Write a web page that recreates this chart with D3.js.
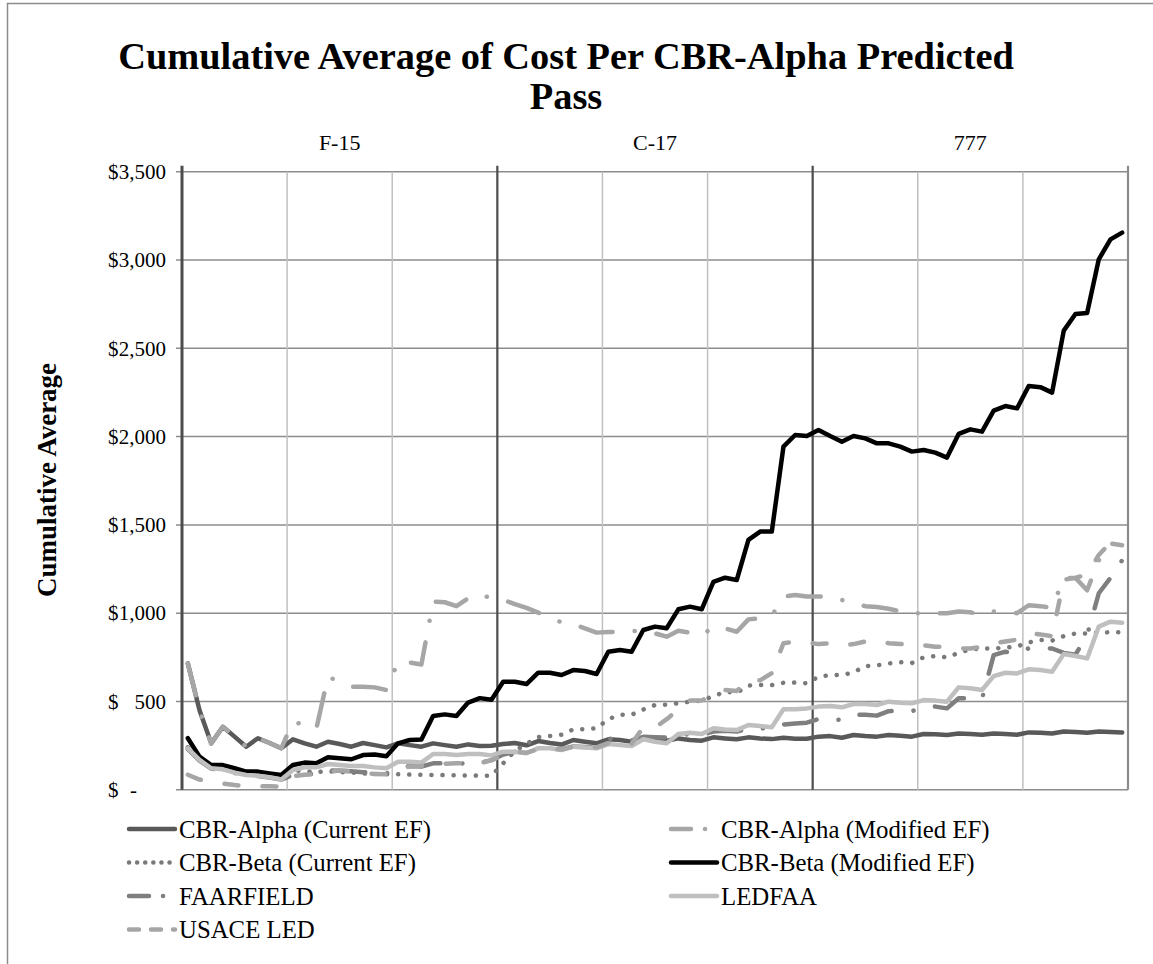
<!DOCTYPE html>
<html>
<head>
<meta charset="utf-8">
<script src="https://cdn.jsdelivr.net/npm/d3@7"></script>
<style>
  body { margin: 0; background: #fff; }
  svg text { font-family: "Liberation Serif", "Times New Roman", serif; fill: #000; }
</style>
</head>
<body>
<div id="chart"></div>
<script>
// aircraft groups (outer category level), 27 passes in each
var groups = ["F-15", "C-17", "777"];
var passesPerGroup = 27;

var yTicks = [0, 500, 1000, 1500, 2000, 2500, 3000, 3500];

// cumulative average cost (F-15, C-17, 777)
var alphaCurrent = [
    716, 450, 263, 357, 301, 244, 292, 265, 235, 286, 263, 244, 272, 259, 244, 265, 253, 240, 263, 253, 244, 263, 253, 244, 257, 248, 250,
    259, 265, 252, 276, 265, 256, 282, 272, 263, 286, 282, 272, 291, 286, 278, 291, 282, 278, 297, 291, 286, 297, 291, 287, 295, 289, 289,
    301, 304, 295, 310, 304, 301, 310, 306, 301, 316, 314, 310, 319, 316, 312, 319, 316, 312, 325, 323, 319, 330, 327, 323, 330, 327, 325];
var alphaModified = [
    716, 450, 263, 357, 301, 244, 292, 265, 235, 386, 367, 345, 640, 612, 584, 584, 580, 565, 725, 720, 710, 1065, 1062, 1040, 1085, 1107, 1084,
    1075, 1052, 1030, 1003, 975, 948, 939, 914, 890, 893, 895, 898, 901, 886, 867, 901, 890, 873, 924, 914, 895, 965, 971, 984, 1094, 1103, 1094,
    1095, 1090, 1075, 1055, 1040, 1035, 1025, 1010, 995, 1005, 1000, 1000, 1010, 1005, 990, 1010, 1005, 1000, 1045, 1040, 1030, 1200, 1200, 1130, 1300, 1395, 1385];
var betaCurrent = [
    240, 170, 125, 118, 100, 88, 82, 75, 62, 110, 105, 100, 105, 100, 98, 92, 90, 88, 88, 86, 85, 84, 83, 82, 81, 80, 80,
    150, 220, 260, 298, 305, 312, 342, 343, 348, 400, 425, 425, 455, 480, 482, 490, 499, 505, 530, 555, 550, 590, 593, 593, 606, 607, 603,
    640, 650, 650, 665, 700, 705, 715, 722, 718, 750, 758, 750, 775, 795, 800, 800, 805, 812, 835, 848, 845, 870, 885, 885, 890, 892, 892];
var betaModified = [
    292, 188, 140, 140, 122, 103, 103, 93, 84, 140, 154, 150, 184, 178, 173, 197, 200, 190, 263, 282, 285, 418, 427, 418, 494, 519, 510,
    612, 612, 599, 663, 663, 650, 678, 673, 656, 782, 792, 782, 905, 924, 915, 1022, 1037, 1022, 1178, 1201, 1188, 1415, 1462, 1462, 1943, 2009, 2003,
    2037, 2003, 1971, 2003, 1990, 1962, 1962, 1943, 1915, 1924, 1909, 1881, 2015, 2041, 2028, 2147, 2173, 2160, 2287, 2280, 2249, 2600, 2694, 2700, 3004, 3117, 3155];
var faarfield = [
    230, 165, 120, 112, 95, 82, 78, 70, 58, 85, 90, 88, 110, 108, 105, 100, 95, 92, 125, 135, 132, 150, 150, 148, 150, 152, 168,
    200, 215, 210, 235, 238, 230, 245, 242, 240, 290, 285, 280, 300, 298, 295, 310, 315, 312, 330, 335, 330, 345, 348, 345, 370, 376, 380,
    401, 401, 395, 424, 425, 420, 445, 448, 445, 471, 471, 461, 518, 518, 515, 763, 782, 773, 801, 803, 800, 775, 765, 877, 1113, 1200, 1300];
var ledfaa = [
    235, 169, 122, 116, 97, 84, 80, 71, 59, 112, 127, 127, 146, 140, 135, 135, 127, 122, 159, 159, 154, 203, 203, 197, 203, 203, 195,
    216, 216, 207, 235, 235, 225, 244, 240, 235, 259, 253, 248, 286, 272, 263, 316, 323, 316, 348, 342, 338, 367, 361, 354, 456, 456, 461,
    471, 474, 467, 486, 486, 480, 499, 493, 490, 508, 505, 499, 580, 575, 565, 644, 663, 659, 682, 678, 669, 769, 758, 744, 924, 952, 946];
var usaceLed = [
    85, 58, 45, 35, 27, 21, 20, 20, 17, 78, 85, 88, 100, 110, 105, 92, 90, 88, 120, 132, 135, 150, 148, 150, 150, 150, 168,
    195, 215, 210, 230, 232, 228, 245, 242, 240, 265, 262, 260, 355, 352, 400, 455, 505, 505, 546, 565, 560, 620, 620, 660, 830, 840, 835,
    825, 830, 818, 825, 840, 845, 830, 825, 830, 818, 810, 810, 800, 800, 810, 830, 840, 850, 885, 880, 870, 1190, 1200, 1220, 1330, 1400, 1390];

var seriesNames = ["CBR-Alpha (Current EF)", "CBR-Alpha (Modified EF)", "CBR-Beta (Current EF)",
    "CBR-Beta (Modified EF)", "FAARFIELD", "LEDFAA", "USACE LED"];
var seriesValues = [alphaCurrent, alphaModified, betaCurrent, betaModified, faarfield, ledfaa, usaceLed];

// line looks, same order as the series
var lineStyles = [
    { color: "#595959", dash: null },
    { color: "#a6a6a6", dash: "33,22,0.1,22" },
    { color: "#7a7a7a", dash: "0.1,11" },
    { color: "#000000", dash: null },
    { color: "#7f7f7f", dash: "33,22,0.1,22" },
    { color: "#bfbfbf", dash: null },
    { color: "#a6a6a6", dash: "14,24" }
];

var width = 1153, height = 964;
var plotLeft = 182, plotRight = 1128, plotTop = 171.7, plotBottom = 789.8;

var svg = d3.select("#chart").append("svg")
    .attr("width", width)
    .attr("height", height);

svg.append("rect").attr("width", width).attr("height", height).attr("fill", "#fff");

// chart area border
svg.append("path")
    .attr("d", "M7.5," + height + "V3.5H" + width)
    .attr("fill", "none")
    .attr("stroke", "#8c8c8c")
    .attr("stroke-width", 1.5);

// title
svg.append("text")
    .attr("x", 566).attr("y", 69)
    .attr("text-anchor", "middle")
    .attr("font-size", "38.4px").attr("font-weight", "bold")
    .text("Cumulative Average of Cost Per CBR-Alpha Predicted");
svg.append("text")
    .attr("x", 566).attr("y", 109)
    .attr("text-anchor", "middle")
    .attr("font-size", "38.4px").attr("font-weight", "bold")
    .text("Pass");

// scales
var nPoints = groups.length * passesPerGroup;
var xScale = d3.scaleBand().domain(d3.range(nPoints)).range([plotLeft, plotRight]).padding(0);
var groupScale = d3.scaleBand().domain(groups).range([plotLeft, plotRight]).padding(0);
var yScale = d3.scaleLinear().domain([0, 3500]).range([plotBottom, plotTop]);

var bw = xScale.bandwidth();

// horizontal gridlines
svg.append("g")
    .selectAll("line")
    .data(yTicks)
    .enter()
    .append("line")
        .attr("x1", plotLeft - 6).attr("x2", plotRight)
        .attr("y1", function(d) { return yScale(d); })
        .attr("y2", function(d) { return yScale(d); })
        .attr("stroke", "#8c8c8c")
        .attr("stroke-width", 1.5);

// vertical minor gridlines every 9 passes
var minorIdx = d3.range(9, nPoints, 9).filter(function(i) { return i % passesPerGroup != 0; });
svg.append("g")
    .selectAll("line")
    .data(minorIdx)
    .enter()
    .append("line")
        .attr("x1", function(i) { return xScale(i); })
        .attr("x2", function(i) { return xScale(i); })
        .attr("y1", plotTop).attr("y2", plotBottom)
        .attr("stroke", "#c0c0c0")
        .attr("stroke-width", 1.5);

// group separators (category axis at top)
var sepX = groups.map(function(g) { return groupScale(g); }).concat([plotRight]);
svg.append("g")
    .selectAll("line")
    .data(sepX)
    .enter()
    .append("line")
        .attr("x1", function(d) { return d; })
        .attr("x2", function(d) { return d; })
        .attr("y1", plotTop - 6).attr("y2", plotBottom)
        .attr("stroke", function(d, i) { return i == sepX.length - 1 ? "#8c8c8c" : "#4d4d4d"; })
        .attr("stroke-width", function(d, i) { return i == 0 ? 3 : 2.2; });

// group labels
var xAxis = d3.axisTop(groupScale).tickSize(0).tickPadding(0);
var xAxisG = svg.append("g")
    .attr("transform", "translate(0," + 150 + ")")
    .call(xAxis);
xAxisG.select(".domain").remove();
xAxisG.selectAll("text")
    .attr("font-size", "22px")
    .attr("font-family", "Liberation Serif, serif");

// y axis labels, accounting style: "$" on the left, number flush right
var yAxis = d3.axisLeft(yScale)
    .tickValues(yTicks)
    .tickSize(0)
    .tickPadding(16)
    .tickFormat(function(d) { return d == 0 ? "-" : d3.format(",")(d); });
var yAxisG = svg.append("g")
    .attr("transform", "translate(" + plotLeft + ",0)")
    .call(yAxis);
yAxisG.select(".domain").remove();
yAxisG.selectAll("text")
    .attr("font-size", "21px")
    .attr("font-family", "Liberation Serif, serif")
    .attr("x", function(d) { return d == 0 ? -45 : -16; });
yAxisG.selectAll(".tick")
    .append("text")
        .attr("x", -74)
        .attr("dy", "0.32em")
        .attr("text-anchor", "start")
        .attr("fill", "#000")
        .attr("font-size", "21px")
        .attr("font-family", "Liberation Serif, serif")
        .text("$");

// y axis title
svg.append("text")
    .attr("transform", "translate(56," + 480 + ") rotate(-90)")
    .attr("text-anchor", "middle")
    .attr("font-size", "27px").attr("font-weight", "bold")
    .text("Cumulative Average");

// series lines
var line = d3.line()
    .x(function(d, i) { return xScale(i) + bw / 2; })
    .y(function(d) { return yScale(d); });

svg.append("g")
    .selectAll("path")
    .data(seriesValues)
    .enter()
    .append("path")
        .attr("d", function(d) { return line(d); })
        .attr("fill", "none")
        .attr("stroke", function(d, i) { return lineStyles[i].color; })
        .attr("stroke-width", 4.5)
        .attr("stroke-linejoin", "round")
        .attr("stroke-linecap", "round")
        .attr("stroke-dasharray", function(d, i) { return lineStyles[i].dash; });

// legend, two columns
var legend = svg.append("g");
var items = legend.selectAll("g")
    .data(seriesNames)
    .enter()
    .append("g")
        .attr("transform", function(d, i) {
            var col = i % 2, row = Math.floor(i / 2);
            return "translate(" + (col == 0 ? 127 : 669) + "," + (829 + row * 33.5) + ")";
        });
items.append("line")
    .attr("x1", 2).attr("x2", 48)
    .attr("stroke", function(d, i) { return lineStyles[i].color; })
    .attr("stroke-width", 4.5)
    .attr("stroke-linecap", "round")
    .attr("stroke-dasharray", function(d, i) {
        var s = lineStyles[i].dash;
        if (s == "0.1,11") return "0.1,8";
        if (s == "14,24") return "10,12";
        if (s) return "20,14,0.1,14";
        return null;
    });
items.append("text")
    .attr("x", 52).attr("y", 0)
    .attr("dy", "0.35em")
    .attr("font-size", "24.8px")
    .text(function(d) { return d; });
</script>
</body>
</html>
